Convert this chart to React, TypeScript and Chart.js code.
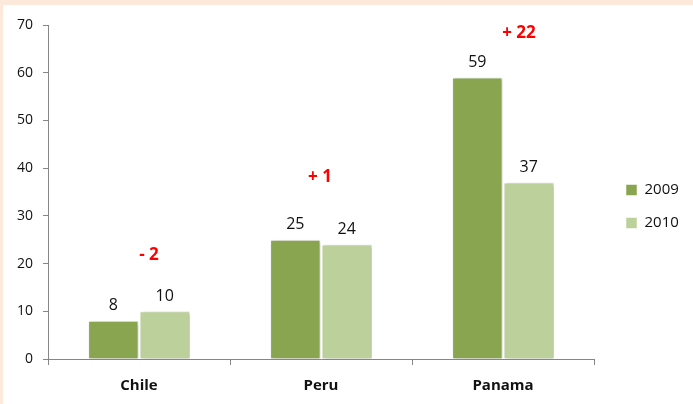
import { useEffect, useRef } from "react";
import { Chart, registerables } from "chart.js";

Chart.register(...registerables);

const categories = ["Chile", "Peru", "Panama"];
const seriesNames = ["2009", "2010"];
const values2009 = [8, 25, 59];
const values2010 = [10, 24, 37];
const changeLabels = ["- 2", "+ 1", "+ 22"];
const changeLabelLevels = [21.8, 38.2, 68.3];
const yTickValues = [0, 10, 20, 30, 40, 50, 60, 70];

const COLOR_2009 = "#8aa550";
const COLOR_2010 = "#bbd09a";
const FONT = "'Open Sans', sans-serif";
const changeOffsets = [10, -1, 16];
const LEGEND_WIDTH = 99;
const LEGEND_SHIFT_X = 14;
const LEGEND_SHIFT_Y = -8;

const valueLabelsPlugin = {
  id: "valueLabels",
  afterDatasetsDraw(chart: any) {
    const ctx = chart.ctx;
    ctx.save();
    ctx.fillStyle = "#111";
    ctx.font = `16px ${FONT}`;
    ctx.textAlign = "center";
    ctx.textBaseline = "bottom";
    chart.data.datasets.forEach((ds: any, di: number) => {
      const meta = chart.getDatasetMeta(di);
      meta.data.forEach((el: any, i: number) => {
        ctx.fillText(String(ds.data[i]), el.x, el.y - 7);
      });
    });
    const xs = chart.scales.x;
    const ys = chart.scales.y;
    ctx.fillStyle = "#ff0000";
    ctx.font = `bold 17px ${FONT}`;
    ctx.textBaseline = "middle";
    changeLabels.forEach((t, i) => {
      ctx.fillText(t, xs.getPixelForValue(i) + changeOffsets[i], ys.getPixelForValue(changeLabelLevels[i]));
    });
    ctx.restore();
  },
};

const shadowPlugin = {
  id: "barShadow",
  beforeDatasetsDraw(chart: any) {
    const ctx = chart.ctx;
    ctx.save();
    ctx.shadowColor = "rgba(0,0,0,0.28)";
    ctx.shadowBlur = 4;
    ctx.shadowOffsetX = 2;
    ctx.shadowOffsetY = 1;
  },
  afterDatasetsDraw(chart: any) {
    chart.ctx.restore();
  },
};

const legendFitPlugin = {
  id: "legendFit",
  afterInit(chart: any) {
    const legend = chart.legend;
    if (!legend) return;
    const orig = legend.fit.bind(legend);
    legend.fit = function () {
      orig();
      this.width = LEGEND_WIDTH;
    };
  },
  afterLayout(chart: any) {
    const legend = chart.legend;
    if (!legend) return;
    legend.left += LEGEND_SHIFT_X;
    legend.right += LEGEND_SHIFT_X;
    legend.top += LEGEND_SHIFT_Y;
    legend.bottom += LEGEND_SHIFT_Y;
  },
};

export default function App() {
  const ref = useRef<HTMLCanvasElement>(null);
  useEffect(() => {
    if (!ref.current) return;
    const chart = new Chart(ref.current, {
      type: "bar",
      data: {
        labels: categories,
        datasets: [
          { label: seriesNames[0], data: values2009, backgroundColor: COLOR_2009, borderColor: "rgba(255,255,255,0.5)", borderWidth: 1, barPercentage: 0.98, categoryPercentage: 0.565 },
          { label: seriesNames[1], data: values2010, backgroundColor: COLOR_2010, borderColor: "rgba(255,255,255,0.5)", borderWidth: 1, barPercentage: 0.98, categoryPercentage: 0.565 },
        ],
      },
      options: {
        responsive: false,
        animation: false,
        layout: { padding: { top: 20, right: 0, left: 0, bottom: 0 } },
        plugins: {
          legend: {
            position: "right",
            labels: {
              boxWidth: 11,
              boxHeight: 11,
              color: "#111",
              font: { family: FONT, size: 15 },
              padding: 18,
            },
          },
          tooltip: { enabled: false },
        },
        scales: {
          x: {
            grid: { display: true, drawOnChartArea: false, drawTicks: true, tickLength: 6, color: "#868686", offset: true },
            border: { color: "#868686" },
            ticks: { color: "#111", font: { family: FONT, size: 15, weight: "bold" }, padding: 12 },
            afterFit: (s: any) => { s.height = 45; },
          },
          y: {
            min: 0,
            max: 70,
            afterBuildTicks: (s: any) => { s.ticks = yTickValues.map((v) => ({ value: v })); },
            grid: { display: true, drawOnChartArea: false, drawTicks: true, tickLength: 5, color: "#868686" },
            border: { color: "#868686" },
            ticks: { color: "#111", font: { family: FONT, size: 14 }, padding: 10 },
            afterFit: (s: any) => { s.width = 45; },
          },
        },
      },
      plugins: [legendFitPlugin, shadowPlugin, valueLabelsPlugin],
    });
    return () => chart.destroy();
  }, []);
  return (
    <div style={{ position: "fixed", left: 0, top: 0, width: 693, height: 404, background: "#fce9dc" }}>
      <div style={{ position: "absolute", left: 3, top: 5, width: 690, height: 399, background: "#fff" }}>
        <canvas ref={ref} width={690} height={399} style={{ display: "block" }} />
      </div>
    </div>
  );
}
